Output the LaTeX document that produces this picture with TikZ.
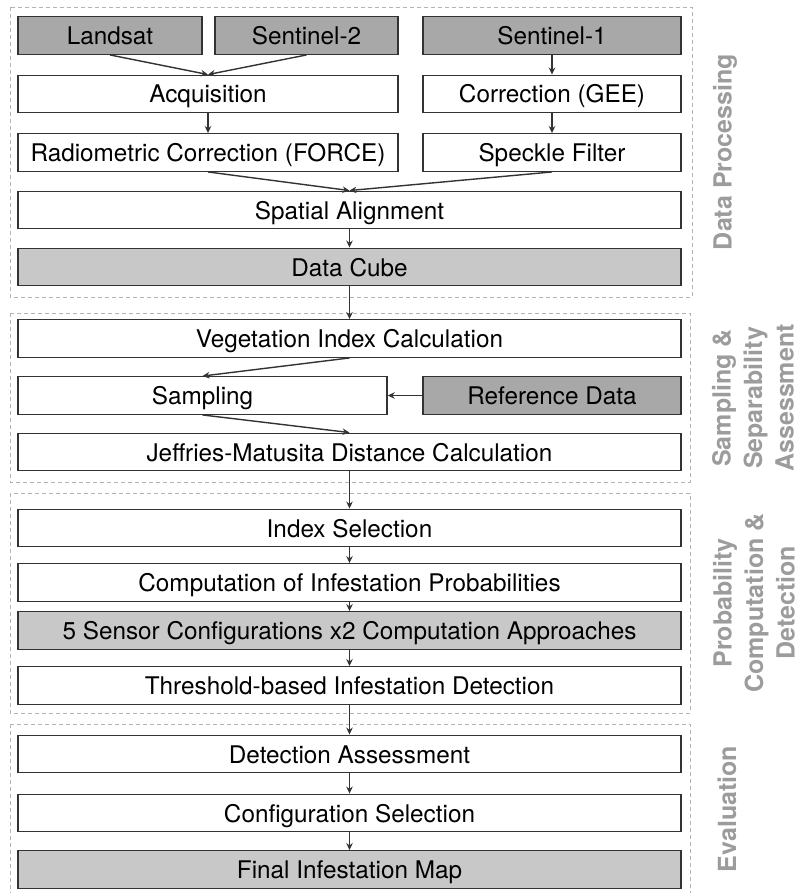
\documentclass[tikz,border=0pt]{standalone}
\usepackage{fontspec}
\setmainfont{TeX Gyre Heros}
\usetikzlibrary{arrows.meta}
\definecolor{boxline}{HTML}{333333}
\definecolor{darkfill}{HTML}{A8A8A8}
\definecolor{lightfill}{HTML}{C8C8C8}
\definecolor{dashcol}{HTML}{B4B4B4}
\definecolor{labelcol}{HTML}{9C9C9C}
\begin{document}
\begin{tikzpicture}[x=1pt,y=-1pt,
  box/.style={draw=boxline, line width=1.4pt, fill=white, minimum height=37.5pt, inner sep=0pt, text height=22.5pt, text depth=4.5pt, font=\fontsize{24.3}{29}\selectfont, text=black},
  darkbox/.style={box, fill=darkfill},
  lightbox/.style={box, fill=lightfill},
  arr/.style={draw=boxline, line width=1.4pt, -{Stealth[length=7pt,width=6.5pt]}},
  sect/.style={draw=dashcol, line width=0.9pt, dash pattern=on 4pt off 3pt},
  side/.style={rotate=90, text=labelcol, align=center, font=\fontsize{25}{31.5}\bfseries\selectfont, inner sep=0pt}
]
\useasboundingbox (0,0) rectangle (799,893);
% section frames
\draw[sect] (10,7) rectangle (692,297);
\draw[sect] (10,313) rectangle (690,482);
\draw[sect] (10,493) rectangle (690,713);
\draw[sect] (10,724) rectangle (690,900);

% side labels
\node[side] (lab1) at (725,152) {Data Processing};
\node[side] (lab2) at (753,398) {Sampling \&\\Separability\\Assessment};
\node[side] (lab3) at (754,603) {Probability\\Computation \&\\Detection};
\node[side] (lab4) at (727,809) {Evaluation};

% data processing
\node[darkbox, minimum width=184pt] (landsat) at (110,35.5) {Landsat};
\node[darkbox, minimum width=183pt] (s2) at (306.5,35.5) {Sentinel-2};
\node[darkbox, minimum width=258pt] (s1) at (552,35.5) {Sentinel-1};
\node[box, minimum width=380pt] (acq) at (208,94) {Acquisition};
\node[box, minimum width=258pt] (gee) at (552,94) {Correction (GEE)};
\node[box, minimum width=380pt] (force) at (208,152.5) {Radiometric Correction (FORCE)};
\node[box, minimum width=258pt] (speckle) at (552,152.5) {Speckle Filter};
\node[box, minimum width=663pt] (align) at (349.5,210) {Spatial Alignment};
\node[lightbox, minimum width=663pt] (cube) at (349.5,267) {Data Cube};

% sampling
\node[box, minimum width=663pt] (veg) at (349.5,338.5) {Vegetation Index Calculation};
\node[box, minimum width=369pt] (samp) at (202.5,395.5) {Sampling};
\node[darkbox, minimum width=258pt] (ref) at (552,395.5) {Reference Data};
\node[box, minimum width=663pt] (jm) at (349.5,452) {Jeffries-Matusita Distance Calculation};

% probability
\node[box, minimum width=663pt] (idx) at (349.5,528) {Index Selection};
\node[box, minimum width=663pt] (comp) at (349.5,582.5) {Computation of Infestation Probabilities};
\node[lightbox, minimum width=663pt] (conf) at (349.5,630.5) {5 Sensor Configurations x2 Computation Approaches};
\node[box, minimum width=663pt] (thr) at (349.5,685.5) {Threshold-based Infestation Detection};

% evaluation
\node[box, minimum width=663pt] (det) at (349.5,754) {Detection Assessment};
\node[box, minimum width=663pt] (csel) at (349.5,813) {Configuration Selection};
\node[lightbox, minimum width=663pt] (final) at (349.5,869.5) {Final Infestation Map};

% connectors
\draw[arr] (landsat.south) -- (acq.north);
\draw[arr] (s2.south) -- (acq.north);
\draw[arr] (s1) -- (gee);
\draw[arr] (acq) -- (force);
\draw[arr] (gee) -- (speckle);
\draw[arr] (force.south) -- (align.north);
\draw[arr] (speckle.south) -- (align.north);
\draw[arr] (align) -- (cube);
\draw[arr] (cube) -- (veg);
\draw[arr] (veg.south) -- (samp.north);
\draw[arr] (ref) -- (samp);
\draw[arr] (samp.south) -- (jm.north);
\draw[arr] (jm) -- (idx);
\draw[arr] (idx) -- (comp);
\draw[arr] (comp) -- (conf);
\draw[arr] (conf) -- (thr);
\draw[arr] (thr) -- (det);
\draw[arr] (det) -- (csel);
\draw[arr] (csel) -- (final);
\end{tikzpicture}
\end{document}
